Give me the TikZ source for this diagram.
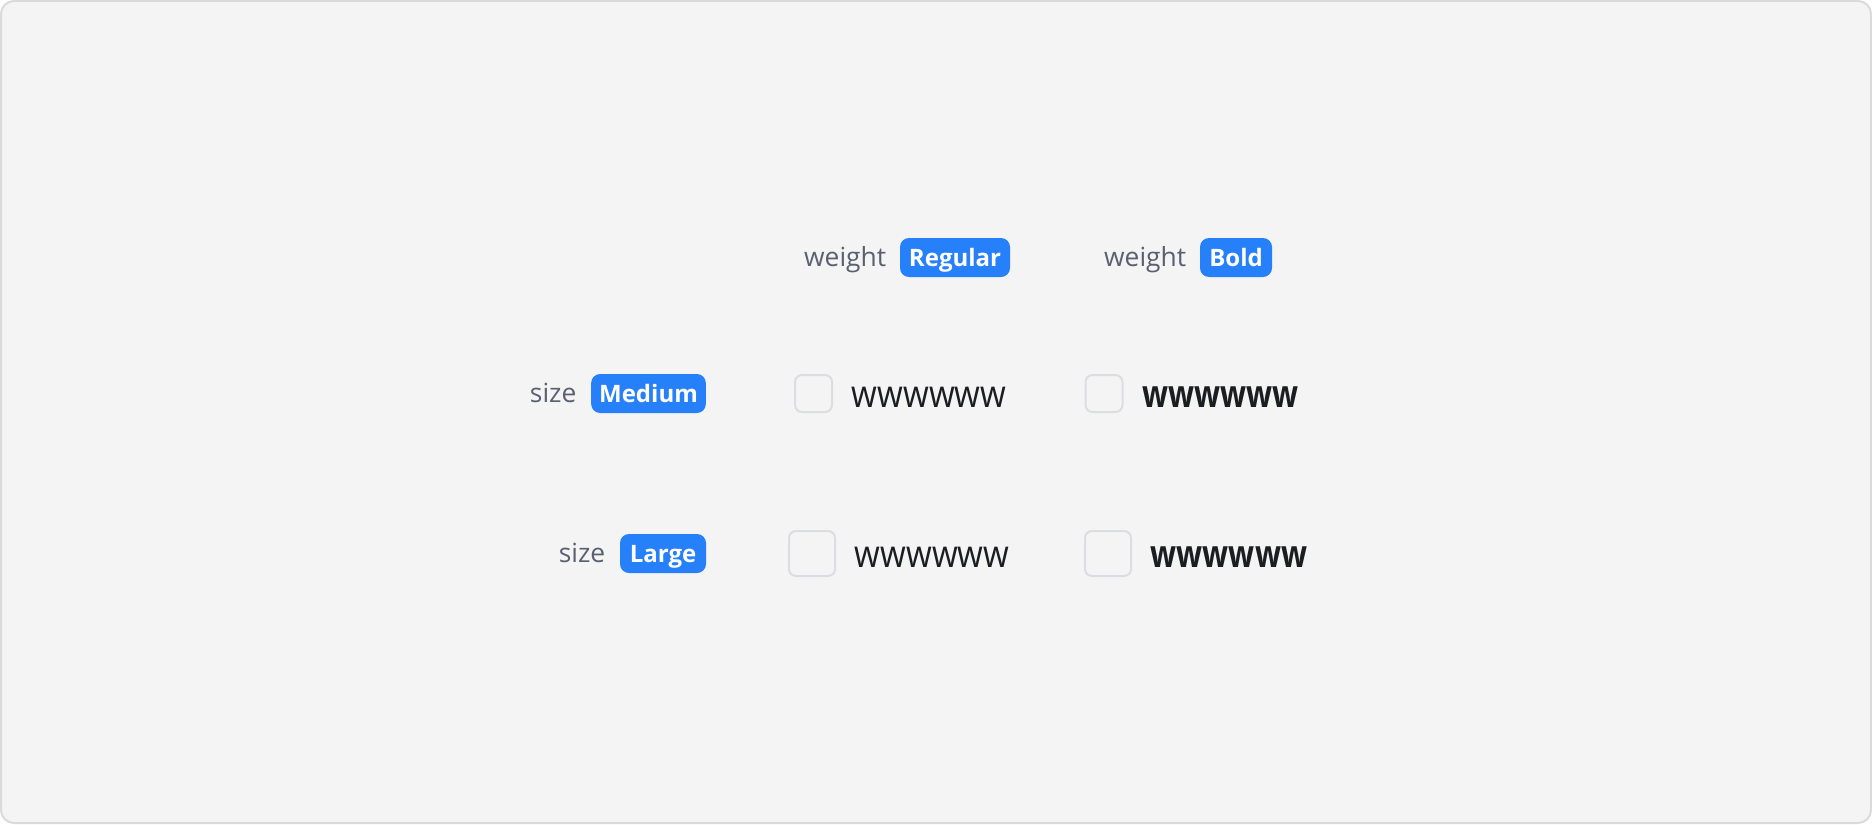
\documentclass[tikz,border=0pt]{standalone}
\usepackage{fontspec}
\setmainfont{Open Sans}
\newfontfamily\wfont[FakeStretch=0.87]{Open Sans}
\newfontfamily\wbfont[FakeStretch=0.8]{Open Sans}
\usetikzlibrary{positioning}
\definecolor{panelbg}{HTML}{F4F4F4}
\definecolor{panelline}{HTML}{DADADA}
\definecolor{tagblue}{HTML}{2680FA}
\definecolor{labelgray}{HTML}{5A6072}
\definecolor{boxline}{HTML}{DCDDE2}
\definecolor{sampleink}{HTML}{1C1D20}
\begin{document}
\begin{tikzpicture}[x=0.5pt,y=-0.5pt,
    tag/.style={fill=tagblue, text=white, rounded corners=4.5pt,
      font=\fontsize{12}{14}\selectfont\bfseries, text height=8.6pt,
      text depth=0pt, inner xsep=4pt, inner ysep=5.45pt},
    lbl/.style={text=labelgray, font=\fontsize{13.2}{16}\selectfont,
      inner sep=0pt, anchor=base east},
    cbox/.style={draw=boxline, line width=1pt, fill=panelbg,
      rounded corners=3.5pt, inner sep=0pt},
    sample/.style={text=sampleink, inner sep=0pt, right=9.25pt of #1,
      yshift=-1.75pt},
    thin/.style={font=\wfont\fontsize{19}{22}\selectfont},
    thick/.style={font=\wbfont\bfseries\fontsize{19}{22}\selectfont}]

  \useasboundingbox (0,0) rectangle (1872,824);
  \draw[panelline, fill=panelbg, line width=1pt, rounded corners=6.5pt] (1,1) rectangle (1871,823);

  % weight header
  \node[tag, minimum width=55pt] (regtag) at (955,257.5) {Regular};
  \node[lbl] (regkey) at ([xshift=-6.5pt]regtag.base west) {weight};
  \node[tag, minimum width=36pt] (boldtag) at (1236,257.5) {Bold};
  \node[lbl] (boldkey) at ([xshift=-6.5pt]boldtag.base west) {weight};

  % size rows
  \node[tag, minimum width=56.5pt] (medtag) at (648.5,393.5) {Medium};
  \node[lbl] (medkey) at ([xshift=-7pt]medtag.base west) {size};
  \node[tag, minimum width=43pt] (lrgtag) at (663,553.5) {Large};
  \node[lbl] (lrgkey) at ([xshift=-7pt]lrgtag.base west) {size};

  % medium samples
  \node[cbox, minimum width=18.5pt, minimum height=18.5pt] (medregbox) at (813.5,393.5) {};
  \node[sample=medregbox, thin] (medregw) {wwwwww};
  \node[cbox, minimum width=18.5pt, minimum height=18.5pt] (medboldbox) at (1104,393.5) {};
  \node[sample=medboldbox, thick] (medboldw) {wwwwww};

  % large samples
  \node[cbox, minimum width=23pt, minimum height=22.5pt] (lrgregbox) at (812,553.5) {};
  \node[sample=lrgregbox, thin] (lrgregw) {wwwwww};
  \node[cbox, minimum width=23pt, minimum height=22.5pt] (lrgboldbox) at (1108,553.5) {};
  \node[sample=lrgboldbox, thick] (lrgboldw) {wwwwww};
\end{tikzpicture}
\end{document}
